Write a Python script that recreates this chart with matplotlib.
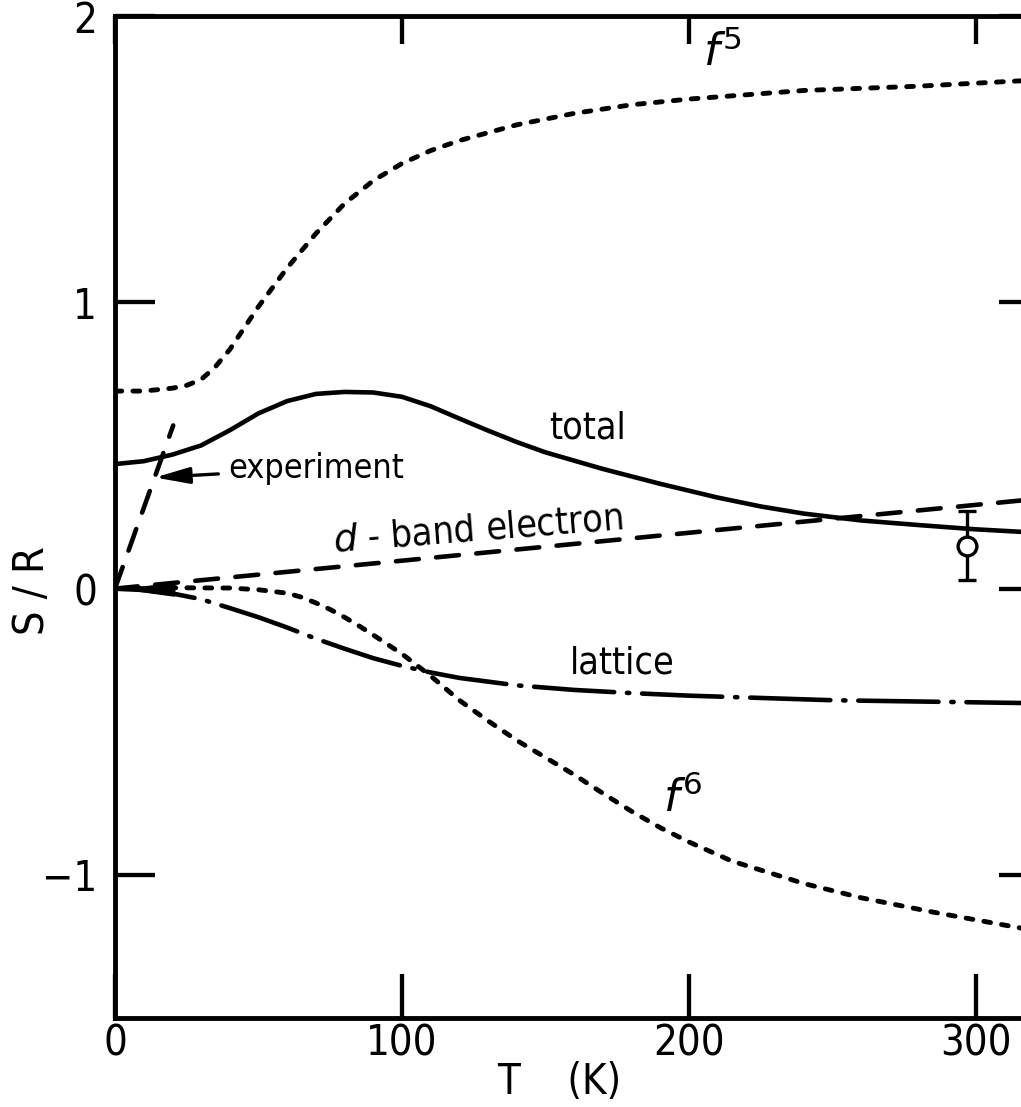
import numpy as np
import matplotlib
matplotlib.use("Agg")
import matplotlib.pyplot as plt

plt.rcParams['font.family'] = ['DejaVu Sans']
plt.rcParams['mathtext.fontset'] = 'dejavusans'

# entropy contributions S/R vs temperature T (K)
t_f5 = [0, 10, 20, 25, 30, 35, 40, 45, 50, 60, 70, 80, 90, 100, 110, 120, 140, 160, 180, 200, 240, 280, 318]
s_f5 = [0.69, 0.69, 0.70, 0.71, 0.73, 0.775, 0.835, 0.91, 0.985, 1.12, 1.24, 1.345, 1.425, 1.485, 1.53, 1.565, 1.62, 1.66, 1.69, 1.71, 1.74, 1.755, 1.775]

t_tot = [0, 10, 20, 30, 40, 50, 60, 70, 80, 90, 100, 110, 120, 130, 140, 150, 170, 190, 210, 225, 240, 260, 280, 300, 318]
s_tot = [0.435, 0.445, 0.468, 0.50, 0.553, 0.612, 0.655, 0.68, 0.687, 0.685, 0.67, 0.637, 0.594, 0.552, 0.512, 0.476, 0.418, 0.366, 0.318, 0.287, 0.262, 0.238, 0.222, 0.207, 0.197]

t_dband = [0, 318]
s_dband = [0, 0.31]

t_exp = [0, 20.3]
s_exp = [0, 0.57]

t_lat = [0, 10, 20, 30, 40, 50, 60, 70, 80, 90, 100, 110, 120, 140, 160, 180, 200, 250, 318]
s_lat = [0, -0.005, -0.017, -0.037, -0.068, -0.10, -0.136, -0.175, -0.21, -0.243, -0.27, -0.293, -0.312, -0.338, -0.354, -0.365, -0.374, -0.39, -0.40]

t_f6 = [0, 20, 40, 50, 60, 65, 70, 75, 80, 85, 90, 100, 110, 120, 130, 140, 150, 160, 170, 180, 190, 200, 215, 240, 260, 285, 318]
s_f6 = [0, 0.003, 0.002, -0.004, -0.016, -0.03, -0.05, -0.073, -0.1, -0.13, -0.162, -0.228, -0.305, -0.39, -0.462, -0.53, -0.59, -0.65, -0.715, -0.778, -0.835, -0.885, -0.952, -1.03, -1.08, -1.13, -1.19]

# measured point at room temperature
t_meas = 297
s_meas = 0.15
s_err = 0.12

xticks = [0, 100, 200, 300]
xticklabels = ['0', '100', '200', '300']
yticks = [-1, 0, 1, 2]
yticklabels = ['\u22121', '0', '1', '2']

fig = plt.figure(figsize=(10.21, 11.07), dpi=100)
ax = fig.add_axes([0.1126, 0.0804, 0.8932, 0.9051])

lw = 3.3
ax.plot(t_f5, s_f5, color='k', lw=3.5, dashes=(1.4, 2.3), dash_capstyle='round')
ax.plot(t_f6, s_f6, color='k', lw=3.5, dashes=(1.4, 2.3), dash_capstyle='round')
ax.plot(t_tot, s_tot, color='k', lw=lw, solid_capstyle='round')
ax.plot(t_dband, s_dband, color='k', lw=lw, dashes=(5.0, 3.8), dash_capstyle='round')
ax.plot(t_exp, s_exp, color='k', lw=lw, dashes=(5.0, 3.8), dash_capstyle='round')
ax.plot(t_lat, s_lat, color='k', lw=lw, dashes=(17.5, 2.8, 0.5, 2.8), dash_capstyle='round')

ax.errorbar([t_meas], [s_meas], yerr=[s_err], fmt='o', ms=13.5, mfc='white', mec='k',
            mew=2.4, ecolor='k', elinewidth=2.4, capsize=6.5, capthick=2.6, zorder=5)

# arrowhead at the origin
ax.annotate('', xy=(0, 0), xytext=(19, -0.005),
            arrowprops=dict(arrowstyle='-|>,head_length=3.6,head_width=0.4',
                            mutation_scale=10, color='k', lw=1.5, shrinkA=0, shrinkB=0))

txt = dict(fontsize=27, fontstretch='condensed', color='k')
ax.annotate('experiment', xy=(13.9, 0.388), xytext=(39.4, 0.42), ha='left', va='center',
            fontsize=24.5, fontstretch='condensed',
            arrowprops=dict(arrowstyle='-|>,head_length=0.85,head_width=0.2', color='k',
                            lw=2.4, shrinkA=5, shrinkB=0))
ax.text(164.5, 0.56, 'total', ha='center', va='center', **txt)
ax.text(126.5, 0.205, '$d$ - band electron', ha='center', va='center', rotation=4.5, **txt)
ax.text(176.7, -0.262, 'lattice', ha='center', va='center', **txt)
ax.text(211.5, 1.87, '$f^{5}$', ha='center', va='center', fontsize=32)
ax.text(197.6, -0.733, '$f^{6}$', ha='center', va='center', fontsize=32)

ax.set_xlim(0, 317.8)
ax.set_ylim(-1.5, 2)

for side in ax.spines.values():
    side.set_linewidth(3.5)

ax.set_xticks(xticks)
ax.set_xticklabels(xticklabels)
ax.set_yticks(yticks)
ax.set_yticklabels(yticklabels)
ax.tick_params(direction='in', top=True, right=True, width=3.1, labelsize=30)
ax.tick_params(axis='x', length=32, pad=3)
ax.tick_params(axis='y', length=29, pad=13)
for lab in ax.get_xticklabels() + ax.get_yticklabels():
    lab.set_fontstretch('condensed')
for tk in ax.xaxis.get_major_ticks():
    tk.tick2line.set_markersize(20)
for tk in ax.yaxis.get_major_ticks():
    tk.tick2line.set_markersize(20)

ax.set_xlabel('T    (K)', fontsize=30, fontstretch='condensed')
ax.xaxis.set_label_coords(0.487, -0.064)
ax.xaxis.label.set_verticalalignment('center')
ax.set_ylabel('S / R', fontsize=31, fontstretch='condensed')
ax.yaxis.set_label_coords(-0.091, 0.427)
ax.yaxis.label.set_verticalalignment('center')

fig.savefig('out.png', dpi=100)
